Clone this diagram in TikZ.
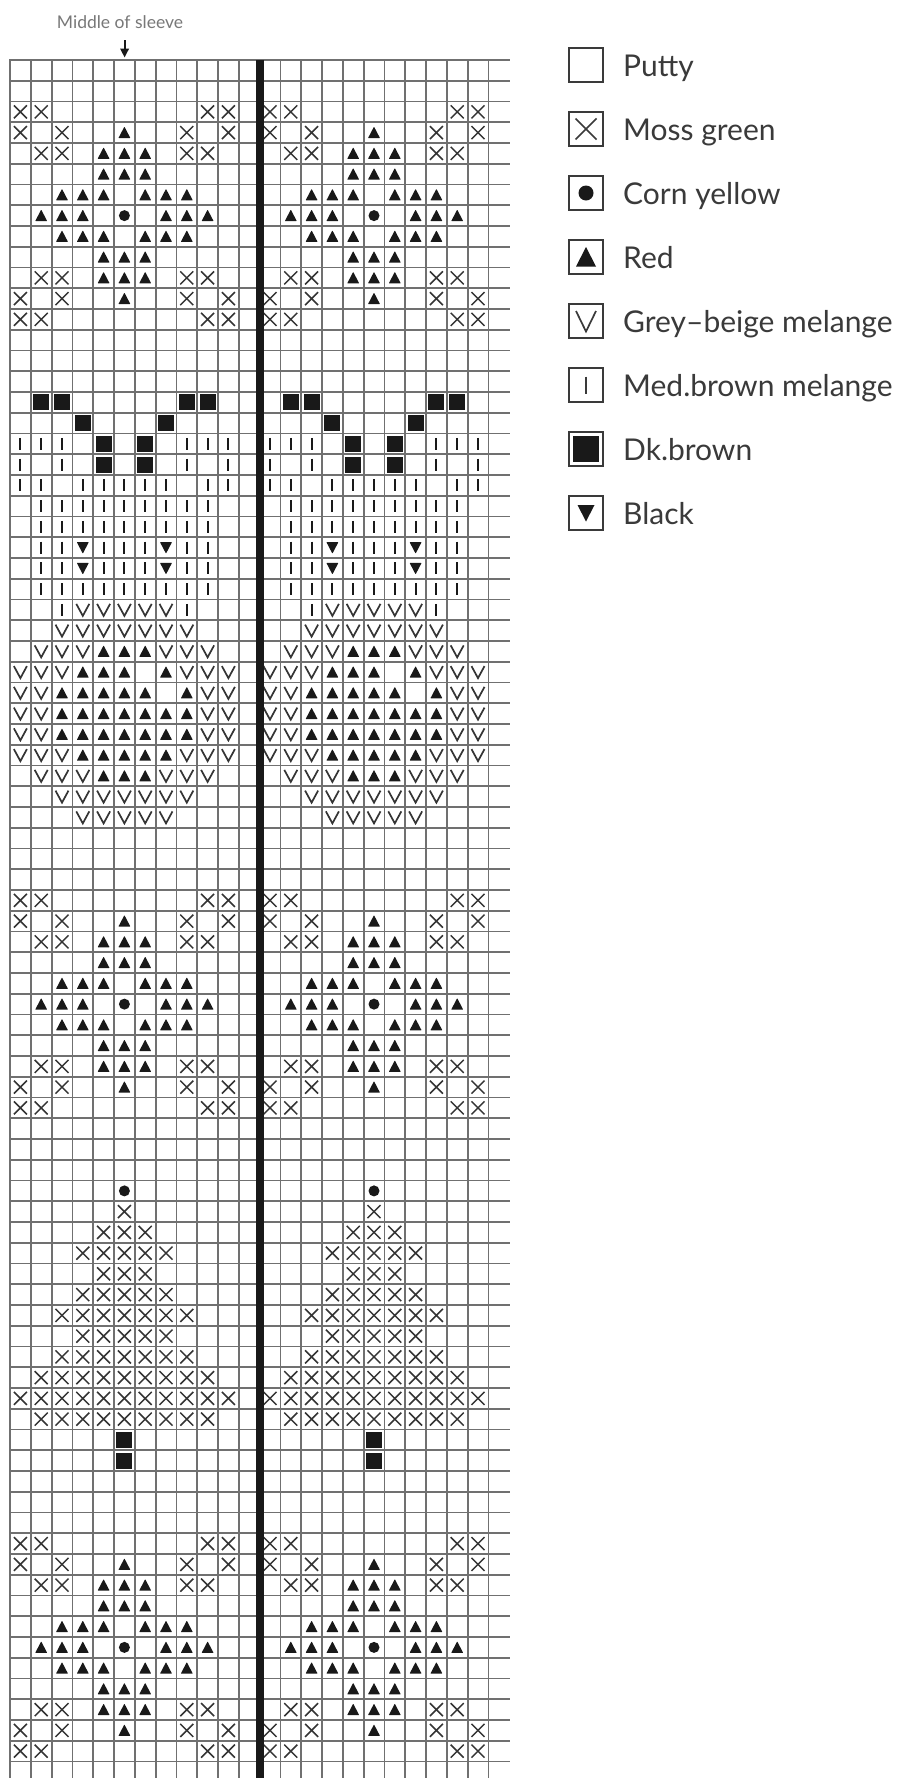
\documentclass[tikz,border=0pt]{standalone}
\usepackage{fontspec}
\setmainfont{Lato}
\usetikzlibrary{arrows.meta}
\definecolor{gridc}{RGB}{112,112,112}
\definecolor{symc}{RGB}{52,52,52}
\definecolor{ink}{RGB}{25,25,25}
\definecolor{txt}{RGB}{58,58,58}
\definecolor{hdr}{RGB}{120,120,120}
\newcommand\cellsym[3]{\pic at ({10+(#1+\h-0.5)*20.8},{60+(#2-0.5)*20.75}) {#3};}
\begin{document}
\begin{tikzpicture}[x=1pt,y=-1pt,
  gridline/.style={draw=gridc,line width=1.8pt},
  xs/.pic={\draw[symc,line width=1.5pt] (-6.5,-6.5)--(6.5,6.5) (-6.5,6.5)--(6.5,-6.5);},
  ts/.pic={\fill[ink,rounded corners=0.5pt] (-6,5.5)--(6,5.5)--(0,-6)--cycle;},
  its/.pic={\fill[ink,rounded corners=0.5pt] (-6,-5.5)--(6,-5.5)--(0,6)--cycle;},
  ds/.pic={\fill[ink] (0,0) circle (5.5);},
  vs/.pic={\draw[symc,line width=1.7pt] (-6.5,-6)--(0,6)--(6.5,-6);},
  bs/.pic={\draw[ink,line width=2pt] (0,-6)--(0,6);},
  ss/.pic={\fill[ink] (-8,-8) rectangle (8,8);},
  legbox/.style={draw=txt,line width=2pt,minimum size=34.5pt,inner sep=0pt,fill=white},
  legtxt/.style={anchor=base west,text=txt,font=\fontsize{30}{31}\selectfont,inner sep=0pt},
]
\useasboundingbox (0,0) rectangle (901,1778);
\fill[white] (0,0) rectangle (901,1778);
\begin{scope}
\clip (0,0) rectangle (901,1778);
% grid lines
\foreach \i in {0,...,82} \draw[gridline] (9.1,{60+\i*20.75}) -- (510,{60+\i*20.75});
\foreach \j in {0,...,23} \draw[gridline] ({10+\j*20.8},59.1) -- ({10+\j*20.8},1778);
% symbols, both halves
\foreach \h in {0,12}{
  % three diamond motifs
  \foreach \o in {3,41,72}{
    \foreach \c/\r in {1/0,2/0,10/0,11/0,1/1,3/1,9/1,11/1,2/2,3/2,9/2,10/2,2/8,3/8,9/8,10/8,1/9,3/9,9/9,11/9,1/10,2/10,10/10,11/10}
      {\cellsym{\c}{\r+\o}{xs}}
    \foreach \c/\r in {6/1,5/2,6/2,7/2,5/3,6/3,7/3,3/4,4/4,5/4,7/4,8/4,9/4,2/5,3/5,4/5,8/5,9/5,10/5,3/6,4/6,5/6,7/6,8/6,9/6,5/7,6/7,7/7,5/8,6/8,7/8,6/9}
      {\cellsym{\c}{\r+\o}{ts}}
    \cellsym{6}{5+\o}{ds}
  }
  % dark brown squares
  \foreach \c/\r in {2/17,3/17,9/17,10/17,4/18,8/18,5/19,7/19,5/20,7/20,6/67,6/68}
    {\cellsym{\c}{\r}{ss}}
  % bars
  \foreach \c/\r in {1/19,2/19,3/19,9/19,10/19,11/19,1/20,3/20,9/20,11/20,1/21,2/21,4/21,5/21,6/21,7/21,8/21,10/21,11/21,3/27,9/27}
    {\cellsym{\c}{\r}{bs}}
  \foreach \r in {22,23,26}{\foreach \c in {2,...,10}{\cellsym{\c}{\r}{bs}}}
  \foreach \r in {24,25}{\foreach \c in {2,3,5,6,7,9,10}{\cellsym{\c}{\r}{bs}}}
  % black inverted triangles
  \foreach \c/\r in {4/24,8/24,4/25,8/25}{\cellsym{\c}{\r}{its}}
  % grey-beige V
  \foreach \r/\a/\b in {27/4/8,28/3/9,36/3/9,37/4/8}{\foreach \c in {\a,...,\b}{\cellsym{\c}{\r}{vs}}}
  \foreach \c/\r in {2/29,3/29,4/29,8/29,9/29,10/29,1/30,2/30,3/30,9/30,10/30,11/30,1/31,2/31,10/31,11/31,1/32,2/32,10/32,11/32,1/33,2/33,10/33,11/33,1/34,2/34,3/34,9/34,10/34,11/34,2/35,3/35,4/35,8/35,9/35,10/35}
    {\cellsym{\c}{\r}{vs}}
  % red triangles in the V band
  \foreach \c/\r in {5/29,6/29,7/29,4/30,5/30,6/30,8/30,3/31,4/31,5/31,6/31,7/31,9/31,5/35,6/35,7/35}
    {\cellsym{\c}{\r}{ts}}
  \foreach \r/\a/\b in {32/3/9,33/3/9,34/4/8}{\foreach \c in {\a,...,\b}{\cellsym{\c}{\r}{ts}}}
  % lower moss green tree
  \cellsym{6}{55}{ds}
  \foreach \r/\a/\b in {56/6/6,57/5/7,58/4/8,59/5/7,60/4/8,61/3/9,62/4/8,63/3/9,64/2/10,65/1/11,66/2/10}{\foreach \c in {\a,...,\b}{\cellsym{\c}{\r}{xs}}}
}
% thick middle line
\draw[ink,line width=8pt] (259.8,60) -- (259.8,1778);
\end{scope}
% header
\node[anchor=base,text=hdr,font=\fontsize{17.5}{18}\selectfont,inner sep=0pt] (hdr) at (120,28.5) {Middle of sleeve};
\coordinate (arrTop) at (124.6,40);
\coordinate (arrBot) at (124.6,57.5);
\draw[ink,line width=2pt,-{Triangle[length=9pt,width=8.5pt]}] (arrTop) -- (arrBot);
% legend
\foreach \k/\name in {1/Putty,2/Moss green,3/Corn yellow,4/Red,5/Grey--beige melange,6/Med.brown melange,7/Dk.brown,8/Black}{
  \node[legbox] (lb\k) at (586,{65+(\k-1)*64}) {};
  \node[legtxt] (lt\k) at (623,{76.5+(\k-1)*64}) {\name};
}
\draw[txt,line width=1.7pt] ([shift={(-10.5,-10.5)}]lb2.center) -- ([shift={(10.5,10.5)}]lb2.center)
  ([shift={(-10.5,10.5)}]lb2.center) -- ([shift={(10.5,-10.5)}]lb2.center);
\fill[ink] (lb3.center) circle (7.5);
\fill[ink] ([shift={(-10,9.5)}]lb4.center) -- ([shift={(10,9.5)}]lb4.center) -- ([shift={(0,-10)}]lb4.center) -- cycle;
\draw[txt,line width=1.7pt] ([shift={(-10,-10)}]lb5.center) -- ([shift={(0,10.5)}]lb5.center) -- ([shift={(10,-10)}]lb5.center);
\draw[txt,line width=2pt] ([shift={(0,-8.5)}]lb6.center) -- ([shift={(0,8.5)}]lb6.center);
\fill[ink] ([shift={(-13,-13)}]lb7.center) rectangle ([shift={(13,13)}]lb7.center);
\fill[ink] ([shift={(-8.5,-8)}]lb8.center) -- ([shift={(8.5,-8)}]lb8.center) -- ([shift={(0,8.5)}]lb8.center) -- cycle;
\end{tikzpicture}
\end{document}
